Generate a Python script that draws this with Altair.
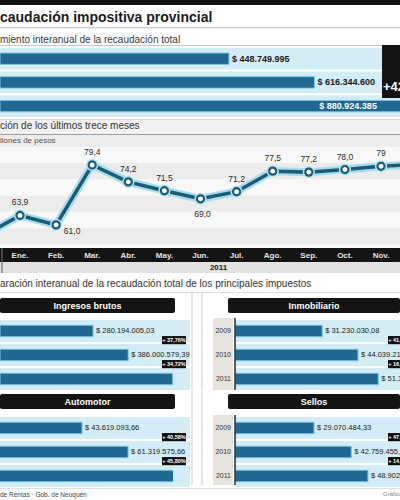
import altair as alt
import pandas as pd

# ------------------------- data -------------------------
title_text = "caudación impositiva provincial"
subtitle_text = "miento interanual de la recaudación total"

total_years = ["2009", "2010", "2011"]
total_values = [448.749995, 616.344600, 880.924385]   # millones de pesos
total_labels = ["$ 448.749.995", "$ 616.344.600", "$ 880.924.385"]
total_growth = "+42,9%"

line_title = "ción de los últimos trece meses"
line_unit = "llones de pesos"
months = ["Dic.", "Ene.", "Feb.", "Mar.", "Abr.", "May.", "Jun.", "Jul.",
          "Ago.", "Sep.", "Oct.", "Nov.", "Dic."]
month_values = [57.8, 63.9, 61.0, 79.4, 74.2, 71.5, 69.0, 71.2, 77.5, 77.2, 78.0, 79.0, 79.6]
month_labels = ["57,8", "63,9", "61,0", "79,4", "74,2", "71,5", "69,0", "71,2",
                "77,5", "77,2", "78,0", "79", "79,6"]
year_label = "2011"

taxes_title = "aración interanual de la recaudación total de los principales impuestos"
tax_years = ["2009", "2010", "2011"]

iibb_name = "Ingresos brutos"
iibb_values = [280.194005, 386.000579, 520.0]
iibb_labels = ["$ 280.194.005,03", "$ 386.000.579,39", "$ 520.000.000,00"]
iibb_badges = ["+ 37,76%", "+ 34,72%"]

inmob_name = "Inmobiliario"
inmob_values = [31.230030, 44.039212, 51.3]
inmob_labels = ["$ 31.230.030,08", "$ 44.039.212,45", "$ 51.316.024,19"]
inmob_badges = ["+ 41,02%", "+ 16,49%"]

auto_name = "Automotor"
auto_values = [43.619093, 61.319575, 89.4]
auto_labels = ["$ 43.619.093,66", "$ 61.319.575,66", "$ 89.403.941,31"]
auto_badges = ["+ 40,58%", "+ 45,80%"]

sellos_name = "Sellos"
sellos_values = [29.070484, 42.759455, 48.9]
sellos_labels = ["$ 29.070.484,33", "$ 42.759.455,12", "$ 48.902.717,40"]
sellos_badges = ["+ 47,09%", "+ 14,36%"]

source_text = "de Rentas · Gob. de Neuquén"
credit_text = "Gráfico: Diario"

# ------------------------- styles -------------------------
FONT = "Liberation Sans"
BLUE = "#1e6892"
BLUE_EDGE = "#7cc4e0"
STRIPE = "#d3ecf6"
DARK = "#141414"
LINE = "#1c5c72"
ONE = pd.DataFrame({"k": [0]})


def vrect(x, x2, y, y2, color, **kw):
    return alt.Chart(ONE).mark_rect(color=color, **kw).encode(
        x=alt.value(x), x2=alt.value(x2), y=alt.value(y), y2=alt.value(y2))


def vline(x, y, y2, color, width=1):
    # vertical hairline drawn as a thin rect (exact bounds, no stroke overhang)
    return vrect(x - width / 2, x + width / 2, y, y2, color)


def vtext(text, x, y, **kw):
    return alt.Chart(ONE).mark_text(**kw).encode(
        x=alt.value(x), y=alt.value(y), text=alt.value(text))


def view(fill):
    return alt.ViewBackground(fill=fill, strokeWidth=0)


# ------------------------- row 1: header -------------------------
r1 = alt.layer(
    vrect(0, 400, 0, 5, DARK),
    vtext(title_text, 0, 21.5, align="left", baseline="alphabetic", fontSize=14,
          fontWeight="bold", color="#1b1b1b"),
    vrect(0, 400, 27, 28.5, "#cfcfcf"),
    vtext(subtitle_text, 0, 42.5, align="left", baseline="alphabetic", fontSize=10,
          color="#3a3a3a"),
    vrect(0, 382, 45, 46, "#c4c4c4"),
    vrect(382, 400, 45, 46, DARK),
).properties(width=400, height=46, view=view("white"))

# ------------------------- row 2: total bars -------------------------
tot = pd.DataFrame({"year": total_years, "idx": [0, 1, 2], "value": total_values,
                    "label": total_labels})
xs2 = alt.Scale(domain=[0, 784], nice=False, zero=False)
ys2 = alt.Scale(domain=[-0.536, 2.544], nice=False, zero=False, reverse=True)
t2 = alt.Chart(tot).transform_calculate(
    s0="datum.idx - 0.46", s1="datum.idx + 0.46",
    b0="datum.idx - 0.24", b1="datum.idx + 0.24",
    lx="min(datum.value, 620)")
r2 = alt.layer(
    t2.mark_rect(color=STRIPE).encode(
        x=alt.value(0), x2=alt.value(400),
        y=alt.Y("s0:Q", scale=ys2, axis=None), y2="s1:Q"),
    t2.mark_rect(color=BLUE, stroke=BLUE_EDGE, strokeWidth=1, clip=True).encode(
        x=alt.X("value:Q", scale=xs2, axis=None), x2=alt.datum(0),
        y=alt.Y("b0:Q", scale=ys2, axis=None), y2="b1:Q"),
    t2.mark_text(align="left", baseline="middle", dx=3, fontSize=9,
                 fontWeight="bold").encode(
        x=alt.X("lx:Q", scale=xs2, axis=None),
        y=alt.Y("idx:Q", scale=ys2, axis=None),
        text="label:N",
        color=alt.condition(alt.datum.value > 700, alt.value("white"), alt.value("#1a1a1a"))),
    vrect(382, 400, 0, 52, DARK),
    vtext(total_growth, 383, 41, align="left", baseline="middle", fontSize=13,
          fontWeight="bold", color="white", clip=True),
).properties(width=400, height=73, view=view("white"))

# ------------------------- row 3: line title -------------------------
r3 = alt.layer(
    vrect(0, 400, 0, 1, "#d2d2d2"),
    vtext(line_title, 0, 9.5, align="left", baseline="alphabetic", fontSize=10,
          color="#333333"),
    vrect(0, 400, 15, 16, "#9d9d9d"),
).properties(width=400, height=16, view=view("#f1f1f1"))

# ------------------------- row 4: line chart -------------------------
ldf = pd.DataFrame({"idx": list(range(len(months))), "month": months,
                    "value": month_values, "label": month_labels})
xsl = alt.Scale(domain=[0.446, 11.526], nice=False, zero=False)
ysl = alt.Scale(domain=[53.9, 88.6], nice=False, zero=False)
XL = alt.X("idx:Q", scale=xsl, axis=None)
YL = alt.Y("value:Q", scale=ysl, axis=None)
bands = pd.DataFrame({"lo": [55, 65, 75, 85], "hi": [60, 70, 80, 90]})
lc = alt.Chart(ldf)
r4 = alt.layer(
    alt.Chart(bands).mark_rect(color="#ececec", clip=True).encode(
        x=alt.value(0), x2=alt.value(400),
        y=alt.Y("lo:Q", scale=ysl, axis=None), y2="hi:Q"),
    vtext(line_unit, 0, 5.5, align="left", baseline="middle", fontSize=8,
          color="#555555"),
    lc.mark_line(color="#a6dcef", strokeWidth=8, clip=True).encode(x=XL, y=YL),
    lc.mark_line(color=LINE, strokeWidth=3.5, clip=True).encode(x=XL, y=YL),
    lc.mark_circle(color="#b4e2f2", size=150, opacity=1, clip=True).encode(x=XL, y=YL),
    lc.mark_circle(fill="white", stroke=LINE, strokeWidth=2.2, size=50, opacity=1,
                   clip=True).encode(x=XL, y=YL),
    lc.transform_filter("datum.idx != 2 && datum.idx != 6").mark_text(
        dy=-13, fontSize=8.5, color="#2a2a2a", clip=True).encode(x=XL, y=YL, text="label:N"),
    lc.transform_filter("datum.idx == 2").mark_text(
        dx=16, dy=6, fontSize=8.5, color="#2a2a2a", clip=True).encode(x=XL, y=YL, text="label:N"),
    lc.transform_filter("datum.idx == 6").mark_text(
        dx=2, dy=15, fontSize=8.5, color="#2a2a2a", clip=True).encode(x=XL, y=YL, text="label:N"),
).properties(width=400, height=113, view=view("#f8f8f8"))

# ------------------------- row 5: month band -------------------------
r5 = alt.layer(
    lc.mark_text(baseline="middle", fontSize=8, fontWeight="bold", color="#e4e4e4",
                 clip=True).encode(x=XL, y=alt.value(7.5), text="month:N"),
    alt.Chart(ONE).mark_rect(color="#777777").encode(
        x=alt.X(datum=0.486, scale=xsl, axis=None), x2=alt.datum(0.514),
        y=alt.value(0), y2=alt.value(14)),
).properties(width=400, height=14, view=view(DARK))

# ------------------------- row 6: year -------------------------
r6 = alt.layer(
    alt.Chart(ONE).mark_text(baseline="middle", fontSize=8, fontWeight="bold",
                             color="#222222").encode(
        x=alt.X(datum=6.5, scale=xsl, axis=None), y=alt.value(6),
        text=alt.value(year_label)),
    alt.Chart(ONE).mark_rect(color="#555555").encode(
        x=alt.X(datum=0.486, scale=xsl, axis=None), x2=alt.datum(0.514),
        y=alt.value(0), y2=alt.value(11)),
).properties(width=400, height=11, view=view("#e2e2e2"))

# ------------------------- row 7: taxes title -------------------------
r7 = alt.layer(
    vtext(taxes_title, 0, 11, align="left", baseline="middle", fontSize=10,
          color="#333333"),
    vrect(0, 400, 19, 20, "#dcdcdc"),
).properties(width=400, height=20, view=view("white"))


# ------------------------- panels -------------------------
def tax_panel(name, values, labels, badges, side, width, height, c0, head, xdom):
    df = pd.DataFrame({"year": tax_years, "idx": [0, 1, 2], "value": values,
                       "label": labels})
    bdf = pd.DataFrame({"idx": [0, 1], "badge": badges})
    lo = -c0 / 24.0
    hi = lo + height / 24.0
    xs = alt.Scale(domain=xdom, nice=False, zero=False)
    ys = alt.Scale(domain=[lo, hi], nice=False, zero=False, reverse=True)
    right = side == "right"
    base = alt.Chart(df).transform_calculate(
        s0="datum.idx - 0.46", s1="datum.idx + 0.46",
        b0="datum.idx - 0.24", b1="datum.idx + 0.24")
    layers = [
        base.mark_rect(color=STRIPE).encode(
            x=alt.value(0), x2=alt.value(width if right else 190),
            y=alt.Y("s0:Q", scale=ys, axis=None), y2="s1:Q"),
        base.mark_rect(color=BLUE, stroke=BLUE_EDGE, strokeWidth=1, clip=True).encode(
            x=alt.X("value:Q", scale=xs, axis=None), x2=alt.datum(0),
            y=alt.Y("b0:Q", scale=ys, axis=None), y2="b1:Q"),
    ]
    lab = base if right else base.transform_filter(f"datum.value < {0.9 * xdom[1]}")
    layers.append(lab.mark_text(align="left", baseline="middle", dx=3, fontSize=7.5,
                                color="#222222", clip=right).encode(
        x=alt.X("value:Q", scale=xs, axis=None),
        y=alt.Y("idx:Q", scale=ys, axis=None), text="label:N"))
    bx = width if right else 174
    bb = alt.Chart(bdf).transform_calculate(by="datum.idx + 0.38")
    layers.append(bb.mark_point(shape="M-1,-0.34H1V0.34H-1Z", filled=True, fill="#111111",
                                size=576, opacity=1, strokeWidth=0, clip=right).encode(
        x=alt.value(bx), y=alt.Y("by:Q", scale=ys, axis=None)))
    layers.append(bb.mark_text(baseline="middle", fontSize=5.5, fontWeight="bold",
                               color="white", clip=right).encode(
        x=alt.value(bx), y=alt.Y("by:Q", scale=ys, axis=None), text="badge:N"))
    if right:
        hx0, hx1 = -7, width
        layers = [
            vrect(-22, -2, c0 - 13, height, "#e6e3dc"),
            vline(-33, 0, height, "#d0d0d0"),
        ] + layers + [
            base.mark_text(align="right", baseline="middle", fontSize=7,
                           color="#333333").encode(
                x=alt.value(-4), y=alt.Y("idx:Q", scale=ys, axis=None), text="year:N"),
            vline(0, c0 - 13, height, "#1d2b38", 1.5),
        ]
    else:
        hx0, hx1 = 0, 175
        layers = [vline(192, 0, height, "#d0d0d0")] + layers
    layers.append(vrect(hx0, hx1, head[0], head[1], DARK, cornerRadius=2))
    layers.append(vtext(name, (hx0 + hx1) / 2, (head[0] + head[1]) / 2, baseline="middle",
                        fontSize=9, fontWeight="bold", color="white"))
    return alt.layer(*layers).properties(width=width, height=height, view=view("white"))


p_iibb = tax_panel(iibb_name, iibb_values, iibb_labels, iibb_badges, "left",
                   173, 97, 38, (5, 20), [0, 521])
p_inmob = tax_panel(inmob_name, inmob_values, inmob_labels, inmob_badges, "right",
                    165, 97, 38, (5, 20), [0, 59.1])
p_auto = tax_panel(auto_name, auto_values, auto_labels, auto_badges, "left",
                   173, 94, 37, (3, 18), [12.08, 78.6])
p_sellos = tax_panel(sellos_name, sellos_values, sellos_labels, sellos_badges, "right",
                     165, 94, 37, (3, 18), [0, 60.7])

r8 = alt.hconcat(p_iibb, p_inmob, spacing=62, bounds="flush")
r9 = alt.hconcat(p_auto, p_sellos, spacing=62, bounds="flush")

# ------------------------- footer -------------------------
r10 = alt.layer(
    vrect(0, 400, 0, 1, "#dddddd"),
    vtext(source_text, 0, 7, align="left", baseline="middle", fontSize=6.5,
          color="#444444"),
    vtext(credit_text, 383, 6, align="left", baseline="middle", fontSize=6,
          color="#888888", clip=True),
    vrect(0, 400, 12, 16, DARK),
).properties(width=400, height=16, view=view("white"))

chart = alt.vconcat(r1, r2, r3, r4, r5, r6, r7, r8, r9, r10,
                    spacing=0).properties(padding=0).configure_view(
    strokeWidth=0).configure_text(font=FONT)

chart.save("out.html", embed_options={"renderer": "svg", "actions": False})
